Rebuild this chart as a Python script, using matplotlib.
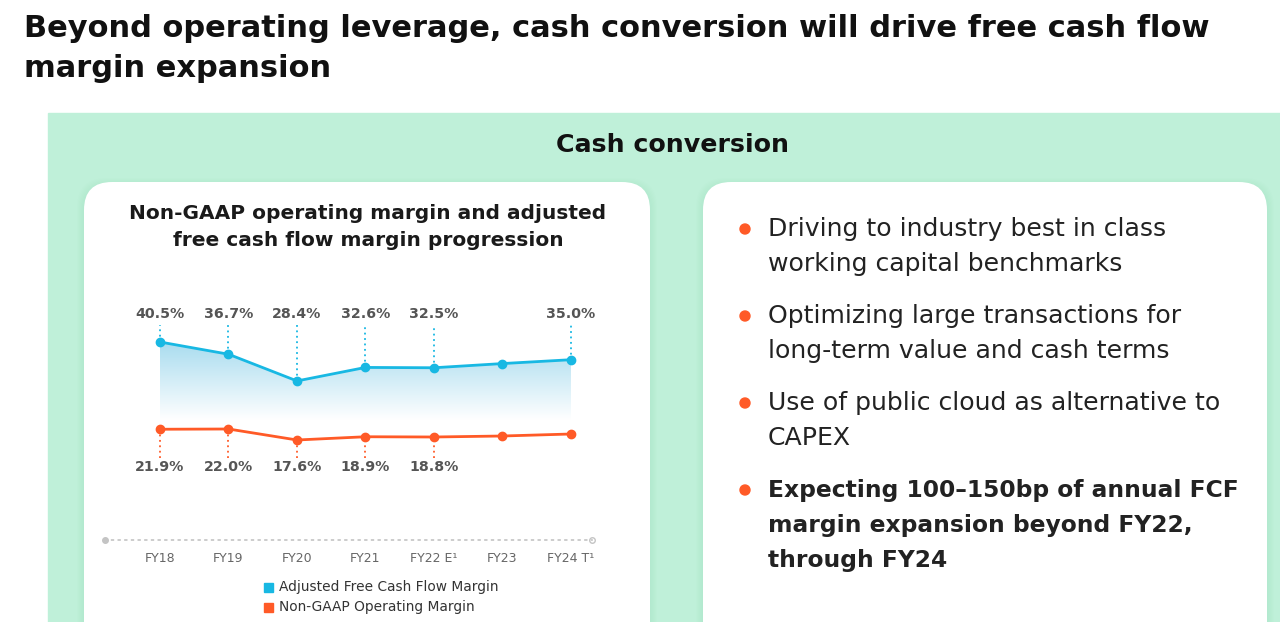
import numpy as np
import matplotlib
matplotlib.use("Agg")
import matplotlib.pyplot as plt
from matplotlib.patches import FancyBboxPatch, Rectangle, Circle
from matplotlib.colors import LinearSegmentedColormap

# ---------------------------------------------------------------------------
# Data (FY23 and the FY24 op margin are unlabeled -> estimated)
# ---------------------------------------------------------------------------
YEARS = ["FY18", "FY19", "FY20", "FY21", "FY22 E¹", "FY23", "FY24 T¹"]
FCF_MARGIN = [40.5, 36.7, 28.4, 32.6, 32.5, 33.8, 35.0]
OP_MARGIN = [21.9, 22.0, 17.6, 18.9, 18.8, 19.2, 20.0]
FCF_LABELED = [True, True, True, True, True, False, True]
OP_LABELED = [True, True, True, True, True, False, False]

LEGEND_LABELS = ["Adjusted Free Cash Flow Margin", "Non-GAAP Operating Margin"]

TITLE = ["Beyond operating leverage, cash conversion will drive free cash flow",
         "margin expansion"]
PANEL_TITLE = "Cash conversion"
CHART_TITLE = ["Non-GAAP operating margin and adjusted",
               "free cash flow margin progression"]
BULLETS = [
    (["Driving to industry best in class", "working capital benchmarks"], "normal"),
    (["Optimizing large transactions for", "long-term value and cash terms"], "normal"),
    (["Use of public cloud as alternative to", "CAPEX"], "normal"),
    (["Expecting 100–150bp of annual FCF", "margin expansion beyond FY22,",
      "through FY24"], "bold"),
]

BLUE = "#18b8e3"
ORANGE = "#ff5a27"
GREEN = "#bff0d9"
FONT = "DejaVu Sans"

W, H = 1280, 622
fig = plt.figure(figsize=(W / 100, H / 100), dpi=100)
fig.patch.set_facecolor("white")

# background / decoration layer in pixel coordinates
bg = fig.add_axes([0, 0, 1, 1])
bg.set_xlim(0, W)
bg.set_ylim(H, 0)
bg.axis("off")

bg.add_patch(Rectangle((48, 113), W, H, color=GREEN, zorder=0))

for x0 in (84, 703):
    wd = 566 if x0 == 84 else 564
    for k in range(8, 0, -1):
        bg.add_patch(FancyBboxPatch((x0 - k + 1, 182 - k + 4), wd + 2 * k - 2, 500,
                                    boxstyle="round,pad=0,rounding_size=30",
                                    fc="#9ad6b8", ec="none", alpha=0.035, zorder=1))
    bg.add_patch(FancyBboxPatch((x0, 182), wd, 500,
                                boxstyle="round,pad=0,rounding_size=28",
                                fc="white", ec="none", zorder=2))

bg.text(24, 37, TITLE[0], fontsize=22, fontweight="bold", family=FONT,
        color="#111111", va="baseline")
bg.text(24, 77, TITLE[1], fontsize=22, fontweight="bold", family=FONT,
        color="#111111", va="baseline")
bg.text(672, 152, PANEL_TITLE, fontsize=18.2, fontweight="bold", family=FONT,
        color="#111111", ha="center", va="baseline", zorder=3)
for i, line in enumerate(CHART_TITLE):
    bg.text(368, 219 + 27 * i, line, fontsize=14.5, fontweight="bold", family=FONT,
            color="#1a1a1a", ha="center", va="baseline", zorder=3)

# bullets on the right card
y = 236
for lines, weight in BULLETS:
    size = 16.8 if weight == "bold" else 18.1
    bg.add_patch(Circle((745, y - 7), 5, color=ORANGE, zorder=3))
    for line in lines:
        bg.text(768, y, line, fontsize=size, fontweight=weight, family=FONT,
                color="#222222", va="baseline", zorder=3)
        y += 35
    y += 17

# legend
for i, (lab, col) in enumerate(zip(LEGEND_LABELS, [BLUE, ORANGE])):
    yc = 587 + 20 * i
    bg.add_patch(Rectangle((264, yc - 4.5), 9, 9, color=col, zorder=3))
    bg.text(279, yc, lab, fontsize=9.9, family=FONT, color="#333333",
            va="center", zorder=3)

# ---------------------------------------------------------------------------
# chart
# ---------------------------------------------------------------------------
ax = fig.add_axes([105 / W, 1 - 540 / H, 487 / W, 240 / H])
ax.set_zorder(5)
ax.patch.set_alpha(0)
ax2 = ax.twinx()
ax2.patch.set_alpha(0)

xs = np.arange(len(YEARS))

# FCF series with gradient fill
fill_floor = 16.3
poly = ax.fill_between(xs, FCF_MARGIN, fill_floor, color="none", lw=0)
cmap = LinearSegmentedColormap.from_list("fade", ["#ffffff", "#a9dcef"])
grad = np.linspace(1, 0, 256).reshape(-1, 1)
im = ax.imshow(grad, cmap=cmap, aspect="auto", origin="upper",
               extent=[xs[0], xs[-1], fill_floor, max(FCF_MARGIN)], zorder=1)
im.set_clip_path(poly.get_paths()[0], transform=ax.transData)

ax.plot(xs, FCF_MARGIN, color=BLUE, lw=2, marker="o", ms=6, zorder=3)
for x, v, show in zip(xs, FCF_MARGIN, FCF_LABELED):
    if not show:
        continue
    ax.vlines(x, v, 45.8, color=BLUE, lw=1.3, linestyles=(0, (1, 2)), zorder=2)
    ax.text(x, 49.2, f"{v:.1f}%", ha="center", va="center", fontsize=10.2,
            fontweight="bold", family=FONT, color="#555555")

ax2.plot(xs, OP_MARGIN, color=ORANGE, lw=2, marker="o", ms=6, zorder=3)
for x, v, show in zip(xs, OP_MARGIN, OP_LABELED):
    if not show:
        continue
    ax2.vlines(x, 10.4, v, color=ORANGE, lw=1.3, linestyles=(0, (1, 2)), zorder=2)
    ax2.text(x, 6.8, f"{v:.1f}%", ha="center", va="center", fontsize=10.2,
             fontweight="bold", family=FONT, color="#555555")

ax.set_xlim(-0.803, 6.307)
ax.set_ylim(-20.99, 53.54)
ax2.set_ylim(-22.4, 73.6)

ax.set_xticks(xs)
ax.set_xticklabels(YEARS, family=FONT, fontsize=9, color="#666666")
ax.tick_params(axis="x", length=0, pad=9)
ax.set_yticks([])
ax2.set_yticks([])
for a in (ax, ax2):
    for s in ("top", "left", "right"):
        a.spines[s].set_visible(False)
ax2.spines["bottom"].set_visible(False)
ax.spines["bottom"].set_color("#c4c4c4")
ax.spines["bottom"].set_linestyle((0, (1, 3)))
ax.spines["bottom"].set_linewidth(1.2)
ax.plot([0], [0], "o", transform=ax.transAxes, clip_on=False, ms=4,
        color="#c4c4c4")
ax.plot([1], [0], "o", transform=ax.transAxes, clip_on=False, ms=4,
        mfc="white", mec="#c4c4c4")

fig.savefig("out.png", dpi=100)
